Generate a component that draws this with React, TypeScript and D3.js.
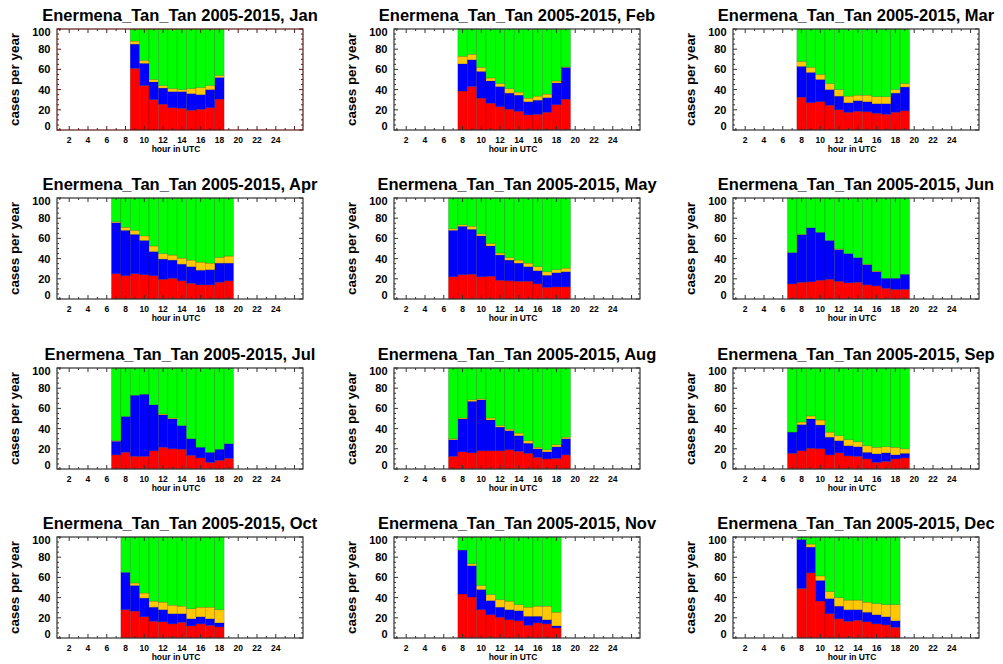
import React from "react";
import * as d3 from "d3";

// ---------- data (percent of cases per hour, stacked: red, blue, orange; green = remainder) ----------
const months = ["Jan", "Feb", "Mar", "Apr", "May", "Jun", "Jul", "Aug", "Sep", "Oct", "Nov", "Dec"];
const stationTitle = "Enermena_Tan_Tan 2005-2015";
const firstHour = [9, 8, 8, 7, 7, 7, 7, 7, 7, 8, 8, 8];

const redValues: number[][] = [
  [61, 44, 30, 25.5, 22, 21.5, 19.5, 20.5, 22, 30.5],
  [38.5, 43, 31.5, 26.5, 23, 20.5, 18.5, 15, 15.5, 17.5, 25, 30.5],
  [32.5, 27, 28, 24.5, 20, 17.5, 18.5, 18, 16.5, 15.5, 17.5, 19],
  [25, 23, 25, 24, 23, 19.5, 20.5, 18, 15.5, 14, 14, 16.5, 18],
  [22, 24, 24.5, 22, 22.5, 18.5, 18, 17.5, 17.5, 15, 11.5, 12, 12],
  [15, 16.5, 17, 18.5, 19.5, 17.5, 16, 16.5, 14, 13, 10.5, 9.5, 9.5],
  [14, 16.5, 12.5, 12.5, 18, 21.5, 20, 19.5, 13.5, 11, 6.5, 8.5, 10.5],
  [12.5, 17, 16, 18, 18, 18, 19, 17.5, 15.5, 11.5, 10, 10.5, 14],
  [15.5, 18, 20.5, 20, 14, 16, 13, 12.5, 10, 6.5, 7.5, 10, 11],
  [28, 26.5, 21, 16.5, 16, 14, 15.5, 12, 14, 12.5, 11],
  [43.5, 40.5, 28, 23, 20.5, 18, 17, 12.5, 15, 14, 10],
  [49, 64.5, 36.5, 24, 19, 16.5, 17.5, 16, 14, 13, 10.5],
];

const blueValues: number[][] = [
  [24, 22, 17.5, 16, 16, 16.5, 16.5, 14.5, 18, 21.5],
  [27, 26.5, 26.5, 22, 20, 16, 16, 13, 14, 14.5, 21.5, 31.5],
  [30.5, 30, 22, 15.5, 13.5, 9.5, 10.5, 10, 9.5, 10.5, 19, 23.5],
  [50.5, 45, 39, 34, 24, 20, 18, 16.5, 16.5, 14.5, 15, 19, 17.5],
  [46, 48, 44.5, 40.5, 30, 25, 20.5, 18, 14.5, 13, 12, 14, 15],
  [31, 47, 53.5, 47.5, 38.5, 31.5, 29, 24.5, 20, 14, 10, 11, 15],
  [13.5, 35.5, 60.5, 61.5, 45.5, 32, 29.5, 23.5, 16.5, 10.5, 10, 11, 14.5],
  [16.5, 32.5, 51, 50.5, 30.5, 23.5, 19, 15.5, 10, 8.5, 7, 11.5, 16],
  [21, 26, 29, 23.5, 17.5, 12, 10, 9.5, 6.5, 8.5, 8.5, 4, 4.5],
  [37, 25.5, 18.5, 14, 12, 10, 8.5, 7, 7, 6.5, 4],
  [43.5, 31, 20, 14, 10, 10, 10, 9, 6.5, 4, 2],
  [48.5, 25.5, 20.5, 15, 12.5, 11.5, 10.5, 9.5, 9, 8, 6.5],
];

const orangeValues: number[][] = [
  [3, 3, 2.5, 2.5, 3, 2, 5, 7, 4, 2],
  [7.5, 5.5, 4, 3, 3, 4.5, 3, 3.5, 4, 3.5, 2, 0.5],
  [5, 5, 5, 6, 6.5, 6.5, 5.5, 6.5, 7, 7, 3.5, 3.5],
  [1, 3, 4, 4.5, 5.5, 5.5, 5, 6, 6.5, 8, 6.5, 5.5, 7],
  [1.5, 1.5, 3, 2, 2.5, 2, 2.5, 3, 3.5, 4, 3.5, 3, 3.5],
  [0, 0.5, 0, 0, 0, 0.7, 0, 0, 0.5, 0.7, 0, 0, 0],
  [0.6, 0, 0, 0, 0, 1, 1, 0, 0, 0, 0, 0, 0],
  [1, 1, 1.5, 1, 2, 1.5, 1.5, 2.5, 2.5, 1.5, 2, 2, 1.5],
  [0, 2.5, 3, 5, 5, 5, 6, 5, 6.5, 6.5, 6, 7.5, 4.5],
  [0, 2.5, 5, 6, 7.5, 8.5, 7.5, 10, 9.5, 11.5, 13],
  [0, 2, 4, 6, 7.5, 8.5, 6, 9, 10, 13.5, 13.5],
  [0, 3, 4.5, 7, 8.5, 9.5, 9.5, 10, 11, 12, 16],
];

const yTickValues = [0, 20, 40, 60, 80, 100];
const xTickValues = [2, 4, 6, 8, 10, 12, 14, 16, 18, 20, 22, 24];
const xDomain: [number, number] = [0.7, 26.9];
const yDomain: [number, number] = [0, 100];
const seriesKeys = ["red", "blue", "orange", "green"];
const seriesColors: Record<string, string> = {
  red: "#ff0000",
  blue: "#0000ff",
  orange: "#ffc800",
  green: "#00ff00",
};

// ---------- layout ----------
const W = 1003;
const H = 664;
const colLeft = [57, 394, 733];
const rowTop = [29, 198, 368, 537];
const plotW = 246;
const plotH = 101;
const FONT = "'Liberation Sans', Arial, Helvetica, sans-serif";

type Row = { hour: number; red: number; blue: number; orange: number; green: number };

function Panel({ m }: { m: number }) {
  const left = colLeft[m % 3];
  const top = rowTop[Math.floor(m / 3)];
  const right = left + plotW;
  const bottom = top + plotH;
  const x = d3.scaleLinear().domain(xDomain).range([left, right]);
  const y = d3.scaleLinear().domain(yDomain).range([bottom, top]);

  const rows: Row[] = redValues[m].map((r, i) => {
    const b = blueValues[m][i];
    const o = orangeValues[m][i];
    return { hour: firstHour[m] + i, red: r, blue: b, orange: o, green: 100 - r - b - o };
  });
  const stacked = d3.stack<Row>().keys(seriesKeys)(rows);

  const frameColor = m === 0 ? "#5a1a1a" : "#333333";
  const minorY = d3.range(0, 101, 5).filter((v) => v % 20 !== 0);
  const hourTicks = d3.range(1, 27);

  return (
    <g>
      <text
        x={(left + right) / 2}
        y={top - 8}
        textAnchor="middle"
        fontFamily={FONT}
        fontWeight="bold"
        fontSize={16.5}
        fill="#000"
      >
        {`${stationTitle}, ${months[m]}`}
      </text>
      {stacked.map((s) => (
        <g key={s.key} fill={seriesColors[s.key]}>
          {s.map((d, i) => (
            <rect
              key={i}
              x={x(d.data.hour - 0.5)}
              width={x(d.data.hour + 0.5) - x(d.data.hour - 0.5)}
              y={y(d[1])}
              height={Math.max(0, y(d[0]) - y(d[1]))}
              stroke="rgba(0,0,0,0.28)"
              strokeWidth={0.6}
            />
          ))}
        </g>
      ))}
      <rect x={left} y={top} width={plotW} height={plotH} fill="none" stroke={frameColor} strokeWidth={1.2} />
      {/* y ticks */}
      {yTickValues.map((v) => (
        <g key={"yt" + v} stroke={frameColor} strokeWidth={1}>
          <line x1={left} x2={left + 4} y1={y(v)} y2={y(v)} />
          <line x1={right} x2={right - 4} y1={y(v)} y2={y(v)} />
        </g>
      ))}
      {minorY.map((v) => (
        <g key={"ym" + v} stroke={frameColor} strokeWidth={1}>
          <line x1={left} x2={left + 2} y1={y(v)} y2={y(v)} />
          <line x1={right} x2={right - 2} y1={y(v)} y2={y(v)} />
        </g>
      ))}
      {/* x ticks */}
      {hourTicks.map((h) => {
        const len = h % 2 === 0 ? 4 : 2;
        return (
          <g key={"xt" + h} stroke={frameColor} strokeWidth={1}>
            <line x1={x(h)} x2={x(h)} y1={bottom} y2={bottom - len} />
            <line x1={x(h)} x2={x(h)} y1={top} y2={top + len} />
          </g>
        );
      })}
      {yTickValues.map((v) => (
        <text
          key={"yl" + v}
          x={left - 6.5}
          y={Math.min(bottom - 4.3, Math.max(top + 3.3, y(v)))}
          dy="0.36em"
          textAnchor="end"
          fontFamily={FONT}
          fontWeight="bold"
          fontSize={11}
          fill="#000"
        >
          {v}
        </text>
      ))}
      {xTickValues.map((v) => (
        <text
          key={"xl" + v}
          x={x(v)}
          y={bottom + 13}
          textAnchor="middle"
          fontFamily={FONT}
          fontWeight="bold"
          fontSize={8.5}
          fill="#000"
        >
          {v}
        </text>
      ))}
      <text
        x={(left + right) / 2 - 4}
        y={bottom + 22}
        textAnchor="middle"
        fontFamily={FONT}
        fontWeight="bold"
        fontSize={8.5}
        fill="#000"
      >
        hour in UTC
      </text>
      <text
        transform={`translate(${left - 38},${(top + bottom) / 2}) rotate(-90)`}
        textAnchor="middle"
        fontFamily={FONT}
        fontWeight="bold"
        fontSize={13.4}
        fill="#000"
      >
        cases per year
      </text>
    </g>
  );
}

export default function App() {
  return (
    <svg
      width={W}
      height={H}
      viewBox={`0 0 ${W} ${H}`}
      style={{ position: "absolute", left: 0, top: 0, display: "block", background: "#fff" }}
    >
      <rect x={0} y={0} width={W} height={H} fill="#fff" />
      {months.map((_, m) => (
        <Panel key={m} m={m} />
      ))}
    </svg>
  );
}
